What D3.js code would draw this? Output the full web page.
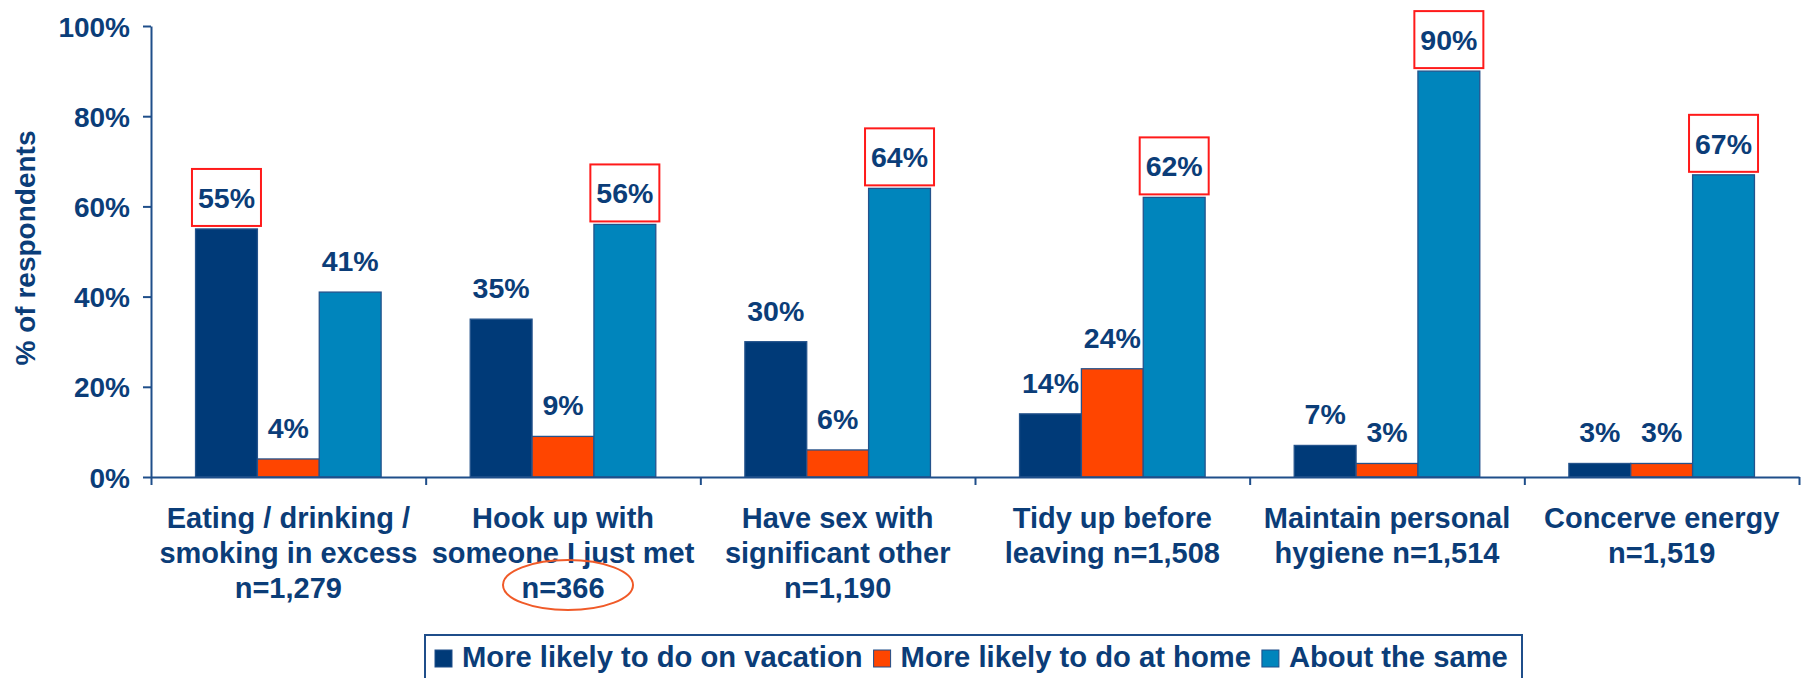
<!DOCTYPE html>
<html>
<head>
<meta charset="utf-8">
<script src="https://cdn.jsdelivr.net/npm/d3@7"></script>
<style>
  body { margin: 0; background: #fff; }
  svg text { font-family: "Liberation Sans", Arial, sans-serif; font-weight: bold; fill: #0b3d78; }
</style>
</head>
<body>
<div id="chart"></div>
<script>
// Data
const categories = [
  ["Eating / drinking /", "smoking in excess", "n=1,279"],
  ["Hook up with", "someone I just met", "n=366"],
  ["Have sex with", "significant other", "n=1,190"],
  ["Tidy up before", "leaving n=1,508"],
  ["Maintain personal", "hygiene n=1,514"],
  ["Concerve energy", "n=1,519"]
];
const seriesNames = ["More likely to do on vacation", "More likely to do at home", "About the same"];
const onVacation = [0.55, 0.35, 0.30, 0.14, 0.07, 0.03];
const atHome     = [0.04, 0.09, 0.06, 0.24, 0.03, 0.03];
const aboutSame  = [0.41, 0.56, 0.64, 0.62, 0.90, 0.67];
const yTicks = [0, 0.2, 0.4, 0.6, 0.8, 1.0];

// Setup
const svgWidth = 1805, svgHeight = 678;
const margin = { top: 26, left: 151, right: 6, bottom: 201 };
const colors = ["#003a78", "#ff4500", "#0085bc"];
const seriesValues = [onVacation, atHome, aboutSame];

const svg = d3.select("#chart").append("svg")
  .attr("width", svgWidth)
  .attr("height", svgHeight);

const catIdx = d3.range(categories.length);

// Scales
const x0 = d3.scaleBand()
  .domain(catIdx)
  .range([margin.left, svgWidth - margin.right])
  .padding(0);

const x1 = d3.scaleBand()
  .domain(d3.range(seriesNames.length))
  .range([0, x0.bandwidth()])
  .paddingInner(0)
  .paddingOuter(0.72);

const y = d3.scaleLinear()
  .domain([0, 1])
  .range([svgHeight - margin.bottom, margin.top]);

// Bars
const groups = svg.append("g").selectAll("g")
  .data(catIdx)
  .join("g")
  .attr("transform", i => `translate(${x0(i)},0)`);

groups.selectAll("rect")
  .data(i => seriesValues.map((vals, s) => ({ s, v: vals[i] })))
  .join("rect")
  .attr("x", d => x1(d.s))
  .attr("y", d => y(d.v))
  .attr("width", x1.bandwidth())
  .attr("height", d => y(0) - y(d.v))
  .attr("fill", d => colors[d.s])
  .attr("stroke", "#24538c")
  .attr("stroke-width", 1.3);

// Value labels, the largest in each group boxed in red
groups.each(function(i) {
  const g = d3.select(this);
  const vals = seriesValues.map(v => v[i]);
  const maxS = d3.maxIndex(vals);
  vals.forEach((v, s) => {
    const cx = x1(s) + x1.bandwidth() / 2;
    if (s === maxS) {
      g.append("rect")
        .attr("x", cx - 34.5)
        .attr("y", y(v) - 60)
        .attr("width", 69)
        .attr("height", 57)
        .attr("fill", "#fff")
        .attr("stroke", "#ff1a1a")
        .attr("stroke-width", 2);
    }
    g.append("text")
      .attr("x", cx)
      .attr("y", y(v) - 21)
      .attr("text-anchor", "middle")
      .style("font-size", "28.5px")
      .text(d3.format(".0%")(v));
  });
});

// Y axis
const yAxis = svg.append("g")
  .attr("transform", `translate(${margin.left},0)`)
  .call(d3.axisLeft(y)
    .tickValues(yTicks)
    .tickFormat(d3.format(".0%"))
    .tickSize(8)
    .tickSizeOuter(0)
    .tickPadding(13));
yAxis.selectAll("path, line").attr("stroke", "#1f4e8a").attr("stroke-width", 2);
yAxis.selectAll("text").style("font-size", "28px").attr("dy", "0.36em");

// X axis with ticks between categories
const xb = d3.scaleLinear().domain([0, categories.length]).range(x0.range());
const xAxis = svg.append("g")
  .attr("transform", `translate(0,${y(0)})`)
  .call(d3.axisBottom(xb)
    .ticks(categories.length)
    .tickFormat("")
    .tickSize(8)
    .tickSizeOuter(0));
xAxis.selectAll("path, line").attr("stroke", "#1f4e8a").attr("stroke-width", 2);

// Category labels
svg.append("g").selectAll("text")
  .data(catIdx)
  .join("text")
  .attr("text-anchor", "middle")
  .style("font-size", "29px")
  .each(function(i) {
    d3.select(this).selectAll("tspan")
      .data(categories[i])
      .join("tspan")
      .attr("x", x0(i) + x0.bandwidth() / 2)
      .attr("y", (d, k) => y(0) + 51 + k * 35)
      .text(d => d);
  });

// Orange ellipse around n=366
svg.append("ellipse")
  .attr("cx", x0(1) + x0.bandwidth() / 2 + 5)
  .attr("cy", 585)
  .attr("rx", 65)
  .attr("ry", 25)
  .attr("fill", "none")
  .attr("stroke", "#f05a28")
  .attr("stroke-width", 2);

// Legend
const legend = svg.append("g");
legend.append("rect")
  .attr("x", 425)
  .attr("y", 635)
  .attr("width", 1097)
  .attr("height", 70)
  .attr("fill", "#fff")
  .attr("stroke", "#1f4e8a")
  .attr("stroke-width", 2);

let lx = 435;
seriesNames.forEach((name, s) => {
  legend.append("rect")
    .attr("x", lx)
    .attr("y", 650)
    .attr("width", 17)
    .attr("height", 17)
    .attr("fill", colors[s])
    .attr("stroke", "#1f4e8a")
    .attr("stroke-width", 1);
  const t = legend.append("text")
    .attr("x", lx + 27)
    .attr("y", 667)
    .style("font-size", "29.2px")
    .text(name);
  lx += 27 + t.node().getComputedTextLength() + 11;
});

// Y axis title
svg.append("text")
  .attr("transform", "rotate(-90)")
  .attr("x", -248)
  .attr("y", 35)
  .attr("text-anchor", "middle")
  .style("font-size", "28px")
  .text("% of respondents");
</script>
</body>
</html>
